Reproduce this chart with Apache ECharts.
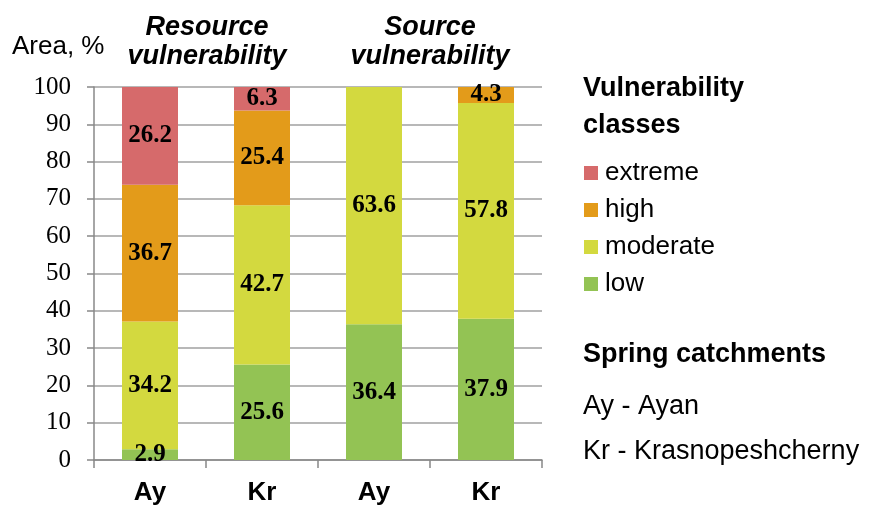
<!DOCTYPE html>
<html><head><meta charset="utf-8">
<script src="https://cdn.jsdelivr.net/npm/echarts@6/dist/echarts.min.js"></script>
<style>html,body{margin:0;padding:0;background:#fff}#c{width:876px;height:508px}</style>
</head><body><div id="c"></div>
<script>
var categories = ['Ay', 'Kr', 'Ay ', 'Kr '];
var low = [2.9, 25.6, 36.4, 37.9];
var moderate = [34.2, 42.7, 63.6, 57.8];
var high = [36.7, 25.4, 0, 4.3];
var extreme = [26.2, 6.3, 0, 0];
var yTicks = [0, 10, 20, 30, 40, 50, 60, 70, 80, 90, 100];
var legendOrder = ['extreme', 'high', 'moderate', 'low'];
var colors = {low: '#93C354', moderate: '#D3D93F', high: '#E39B1A', extreme: '#D66A6B'};

var serif = 'Liberation Serif';
var sans = 'Liberation Sans';
var chart = echarts.init(document.getElementById('c'));
function mk(name, data) {
  return {
    name: name, type: 'bar', stack: 's', data: data, barWidth: '50%',
    itemStyle: {color: colors[name]},
    label: {show: true, position: 'inside', fontFamily: serif, fontWeight: 'bold',
      fontSize: 25, color: '#000', formatter: function (p) { return p.value ? p.value.toFixed(1) : ''; }},
    emphasis: {disabled: true}
  };
}
chart.setOption({
  animation: false,
  grid: {left: 94, right: 334, top: 87, bottom: 48},
  xAxis: {
    type: 'category', data: categories,
    axisLine: {lineStyle: {color: '#888', width: 1.5}},
    axisTick: {show: true, length: 8, lineStyle: {color: '#888', width: 1.5}},
    axisLabel: {fontFamily: sans, fontWeight: 'bold', fontSize: 26, color: '#000', margin: 20,
      formatter: function (v) { return v.trim(); }}
  },
  yAxis: {
    type: 'value', min: 0, max: 100, interval: 10,
    axisLine: {show: true, lineStyle: {color: '#888', width: 1.5}},
    axisTick: {show: true, length: 7, lineStyle: {color: '#888', width: 1.5}},
    splitLine: {lineStyle: {color: '#a0a0a0', width: 1.5}},
    axisLabel: {color: '#000', margin: 23,
      formatter: function (v) { return yTicks.indexOf(v) >= 0 ? '{s|' + v + '}' : ''; },
      rich: {s: {fontFamily: serif, fontSize: 25, fontWeight: 'normal', color: '#000'}}}
  },
  legend: {
    data: legendOrder, orient: 'vertical', left: 584, top: 160, itemGap: 11, padding: 0,
    itemWidth: 14, itemHeight: 14, icon: 'rect', selectedMode: false,
    textStyle: {fontFamily: sans, fontSize: 26, color: '#000', padding: [0, 0, 0, 2]}
  },
  title: [
    {text: 'Area, %', left: 12, top: 34, padding: 0, textStyle: {fontFamily: sans, fontSize: 26, fontWeight: 'normal', color: '#000'}},
    {text: 'Resource\nvulnerability', left: 207, top: 13, padding: 0, textAlign: 'center',
      textStyle: {fontFamily: sans, fontSize: 27, fontWeight: 'bold', fontStyle: 'italic', color: '#000', lineHeight: 29, align: 'center'}},
    {text: 'Source\nvulnerability', left: 430, top: 13, padding: 0, textAlign: 'center',
      textStyle: {fontFamily: sans, fontSize: 27, fontWeight: 'bold', fontStyle: 'italic', color: '#000', lineHeight: 29, align: 'center'}},
    {text: 'Vulnerability\nclasses', left: 583, top: 70, padding: 0,
      textStyle: {fontFamily: sans, fontSize: 27, fontWeight: 'bold', color: '#000', lineHeight: 37}},
    {text: 'Spring catchments', left: 583, top: 341, padding: 0,
      textStyle: {fontFamily: sans, fontSize: 27, fontWeight: 'bold', color: '#000'}},
    {text: 'Ay - Ayan', left: 583, top: 393, padding: 0,
      textStyle: {fontFamily: sans, fontSize: 27, fontWeight: 'normal', color: '#000'}},
    {text: 'Kr - Krasnopeshcherny', left: 583, top: 438, padding: 0,
      textStyle: {fontFamily: sans, fontSize: 27, fontWeight: 'normal', color: '#000'}}
  ],
  series: [mk('low', low), mk('moderate', moderate), mk('high', high), mk('extreme', extreme)]
});
</script></body></html>
